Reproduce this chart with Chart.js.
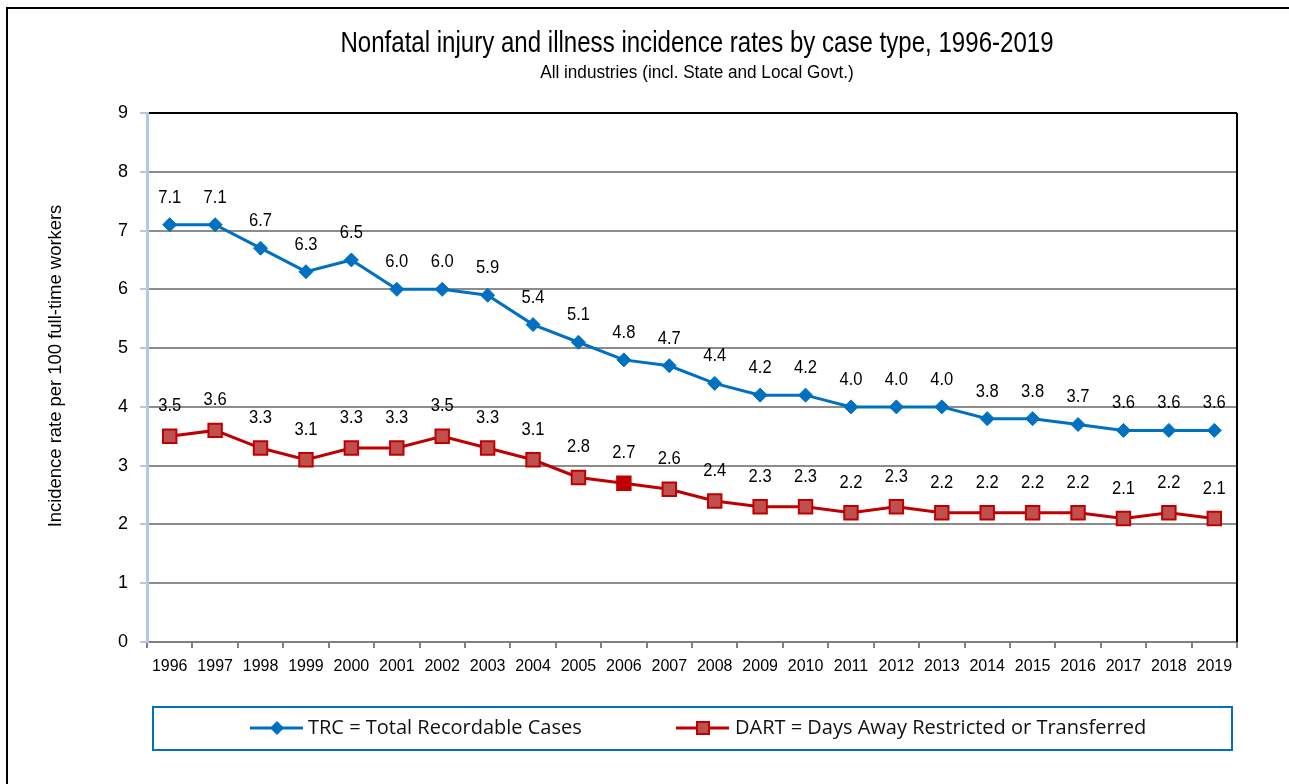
<!DOCTYPE html>
<html>
<head>
<meta charset="utf-8">
<script src="https://cdn.jsdelivr.net/npm/chart.js@4.4.1/dist/chart.umd.min.js"></script>
<style>
  html, body { margin: 0; padding: 0; background: #fff; }
  #wrap { position: relative; width: 1289px; height: 784px; }
</style>
</head>
<body>
<div id="wrap"><canvas id="chart"></canvas></div>
<script>
// Data
const years = ['1996', '1997', '1998', '1999', '2000', '2001', '2002', '2003', '2004', '2005', '2006', '2007',
    '2008', '2009', '2010', '2011', '2012', '2013', '2014', '2015', '2016', '2017', '2018', '2019'];
const trcValues = [7.1, 7.1, 6.7, 6.3, 6.5, 6.0, 6.0, 5.9, 5.4, 5.1, 4.8, 4.7,
    4.4, 4.2, 4.2, 4.0, 4.0, 4.0, 3.8, 3.8, 3.7, 3.6, 3.6, 3.6];
const dartValues = [3.5, 3.6, 3.3, 3.1, 3.3, 3.3, 3.5, 3.3, 3.1, 2.8, 2.7, 2.6,
    2.4, 2.3, 2.3, 2.2, 2.3, 2.2, 2.2, 2.2, 2.2, 2.1, 2.2, 2.1];
const trcLabel = 'TRC = Total Recordable Cases';
const dartLabel = 'DART = Days Away Restricted or Transferred';
const chartTitle = 'Nonfatal injury and illness incidence rates by case type, 1996-2019';
const chartSubtitle = 'All industries (incl. State and Local Govt.)';
const yTitle = 'Incidence rate per 100 full-time workers';

const SANS = '"Liberation Sans", Arial, sans-serif';
const BLUE = '#0070c0';
const RED = '#c00000';
const RED_FILL = '#c0504d';

// the 2006 DART marker is drawn solid dark red in the original
const dartFills = years.map((y) => (y === '2006' ? RED : RED_FILL));

// draw text squeezed horizontally (the original uses a condensed face)
function narrowText(c, text, x, y, sx) {
    c.save();
    c.translate(x, y);
    c.scale(sx, 1);
    c.fillText(text, 0, 0);
    c.restore();
}

const ctx = document.getElementById('chart').getContext('2d');

new Chart(ctx, {
    type: 'line',
    data: {
        labels: years,
        datasets: [
            {
                label: trcLabel,
                data: trcValues,
                borderColor: BLUE,
                backgroundColor: BLUE,
                borderWidth: 3,
                pointStyle: 'rectRot',
                pointRadius: 7,
                pointBorderWidth: 1,
                pointBackgroundColor: BLUE,
                pointBorderColor: BLUE,
                tension: 0,
                labelOffset: 27,
            },
            {
                label: dartLabel,
                data: dartValues,
                borderColor: RED,
                backgroundColor: RED_FILL,
                borderWidth: 3,
                pointStyle: 'rect',
                pointRadius: 9.5,
                pointBorderWidth: 2,
                pointBackgroundColor: dartFills,
                pointBorderColor: RED,
                tension: 0,
                labelOffset: 30,
            },
        ],
    },
    options: {
        animation: false,
        responsive: true,
        maintainAspectRatio: false,
        layout: {
            padding: { left: 40, top: 113, right: 52, bottom: 112 },
        },
        plugins: {
            legend: { display: false },
            tooltip: { enabled: false },
            title: { display: false },
        },
        scales: {
            x: {
                offset: true,
                grid: {
                    offset: true,
                    drawOnChartArea: false,
                    color: '#7f7f7f',
                    tickColor: '#7f7f7f',
                    tickLength: 6,
                    lineWidth: 2,
                },
                border: { color: '#7f7f7f', width: 2 },
                ticks: {
                    color: '#000',
                    font: { family: SANS, size: 16 },
                    padding: 9,
                    maxRotation: 0,
                    autoSkip: false,
                },
                afterFit(scale) { scale.height = 30; },
            },
            y: {
                min: 0,
                max: 9,
                ticks: {
                    stepSize: 1,
                    color: '#000',
                    font: { family: SANS, size: 18 },
                    padding: 12,
                },
                grid: {
                    color: (c) => (c.tick && c.tick.value === 9 ? '#000' : '#8c8c8c'),
                    lineWidth: 2,
                    tickColor: '#b4c7e7',
                    tickLength: 7,
                },
                border: { color: '#b4c7e7', width: 3 },
                title: { display: false },
                afterFit(scale) { scale.width = 107; },
            },
        },
    },
    plugins: [{
        id: 'reportDecor',
        beforeDraw(chart) {
            const c = chart.ctx;
            c.save();
            // outer frame
            c.strokeStyle = '#000';
            c.lineWidth = 2;
            c.beginPath();
            c.moveTo(1289, 8);
            c.lineTo(7, 8);
            c.lineTo(7, 784);
            c.stroke();
            // titles
            c.fillStyle = '#000';
            c.textAlign = 'center';
            c.textBaseline = 'middle';
            c.font = '29px ' + SANS;
            narrowText(c, chartTitle, 697, 44, 0.83);
            c.font = '17.5px ' + SANS;
            narrowText(c, chartSubtitle, 697, 73, 0.98);
            // y axis title
            c.save();
            c.translate(56, 366);
            c.rotate(-Math.PI / 2);
            c.font = '19px ' + SANS;
            narrowText(c, yTitle, 0, 0, 0.97);
            c.restore();
            c.restore();
        },
        afterDraw(chart) {
            const c = chart.ctx;
            const { top, bottom, right } = chart.chartArea;
            c.save();
            // plot area right border
            c.strokeStyle = '#000';
            c.lineWidth = 2;
            c.beginPath();
            c.moveTo(right, top);
            c.lineTo(right, bottom);
            c.stroke();

            // legend box
            c.strokeStyle = BLUE;
            c.lineWidth = 2;
            c.strokeRect(153, 707, 1079, 43);
            const ly = 728;
            c.textBaseline = 'middle';
            c.textAlign = 'left';
            c.font = '20px "Open Sans", Lato, sans-serif';
            // TRC entry
            c.strokeStyle = BLUE;
            c.lineWidth = 3;
            c.beginPath(); c.moveTo(250, ly); c.lineTo(303, ly); c.stroke();
            c.fillStyle = BLUE;
            c.beginPath();
            c.moveTo(277 - 7, ly); c.lineTo(277, ly - 7); c.lineTo(277 + 7, ly); c.lineTo(277, ly + 7);
            c.closePath(); c.fill();
            c.fillStyle = '#111';
            c.fillText(trcLabel, 308, ly);
            // DART entry
            c.strokeStyle = RED;
            c.lineWidth = 3;
            c.beginPath(); c.moveTo(676, ly); c.lineTo(729, ly); c.stroke();
            c.fillStyle = RED_FILL;
            c.fillRect(697, ly - 6, 12, 12);
            c.lineWidth = 2;
            c.strokeRect(697, ly - 6, 12, 12);
            c.fillStyle = '#111';
            c.fillText(dartLabel, 735, ly);

            // value labels above points
            c.font = '18px ' + SANS;
            c.textAlign = 'center';
            c.fillStyle = '#000';
            chart.data.datasets.forEach((ds, i) => {
                chart.getDatasetMeta(i).data.forEach((pt, j) => {
                    narrowText(c, ds.data[j].toFixed(1), pt.x, pt.y - ds.labelOffset, 0.92);
                });
            });
            c.restore();
        },
    }],
});
</script>
</body>
</html>
